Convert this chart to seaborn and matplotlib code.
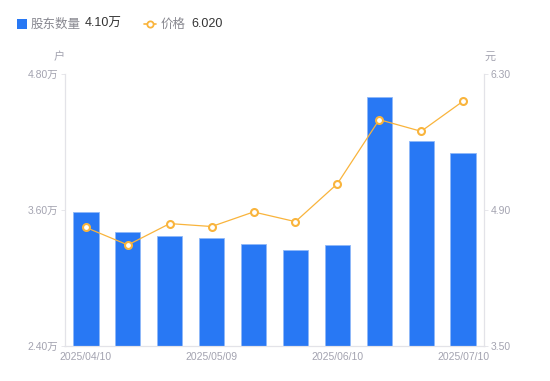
import numpy as np
import pandas as pd
import seaborn as sns
import matplotlib.pyplot as plt
from matplotlib.lines import Line2D
from matplotlib.patches import Rectangle

# dados
datas = ['2025/04/10', '2025/04/18', '2025/04/30', '2025/05/09', '2025/05/20',
         '2025/05/30', '2025/06/10', '2025/06/20', '2025/06/30', '2025/07/10']
acionistas = [3.58, 3.41, 3.37, 3.35, 3.30, 3.245, 3.29, 4.60, 4.21, 4.10]  # 万户
precos = [4.72, 4.54, 4.76, 4.73, 4.88, 4.78, 5.17, 5.83, 5.71, 6.02]
rotulos_x = ['2025/04/10', '2025/05/09', '2025/06/10', '2025/07/10']

azul = '#2878f4'
laranja = '#f9b43c'
cinza = '#a3a3b0'
eixo = '#e3e3e8'

sns.set_style('white')
plt.rcParams['font.family'] = ['Liberation Sans', 'Noto Sans CJK SC', 'DejaVu Sans']

df = pd.DataFrame({'data': datas, 'acionistas': acionistas, 'preco': precos,
                   'pos': np.arange(len(datas))})

fig = plt.figure(figsize=(5.5, 3.81), dpi=100)
ax = fig.add_axes([65 / 550, 35 / 381, 419 / 550, 272 / 381])

# barras: número de acionistas
sns.barplot(data=df, x='data', y='acionistas', color=azul, width=0.6,
            edgecolor='#8fb8f8', linewidth=0.6, saturation=1, ax=ax)
ax.set_ylim(2.4, 4.8)
ax.set_xlim(-0.5, len(datas) - 0.5)
ax.set_yticks([2.4, 3.6, 4.8])
ax.set_yticklabels([f'{v:.2f}万' for v in [2.4, 3.6, 4.8]])
ax.set_xticks([datas.index(d) for d in rotulos_x])
ax.set_xticklabels(rotulos_x)
ax.set_xlabel('')
ax.set_ylabel('')

# linha: preço no eixo da direita
ax2 = ax.twinx()
sns.lineplot(data=df, x='pos', y='preco', color=laranja, linewidth=0.9,
             marker='o', markersize=5, markerfacecolor='white',
             markeredgecolor=laranja, markeredgewidth=1.5, ax=ax2)
ax2.set_ylim(3.5, 6.3)
ax2.set_yticks([3.5, 4.9, 6.3])
ax2.set_yticklabels(['3.50', '4.90', '6.30'])
ax2.set_xlim(-0.5, len(datas) - 0.5)
ax2.set_xlabel('')
ax2.set_ylabel('')

for a in (ax, ax2):
    for s in a.spines.values():
        s.set_color(eixo)
        s.set_linewidth(0.8)
    a.spines['top'].set_visible(False)
    a.tick_params(colors=cinza, labelsize=7.5, length=3, width=0.6)
    a.tick_params(axis='y', color=eixo, pad=2)
ax.tick_params(axis='x', length=0, pad=4)

# unidades
fig.text(59 / 550, 1 - 57 / 381, '户', color=cinza, fontsize=8,
         ha='center', va='center', family=['Noto Sans CJK SC'])
fig.text(490 / 550, 1 - 57 / 381, '元', color=cinza, fontsize=8,
         ha='center', va='center', family=['Noto Sans CJK SC'])

# legenda
yl = 1 - 24 / 381
fig.patches.append(Rectangle((17 / 550, yl - 5 / 381), 10 / 550, 10 / 381,
                             transform=fig.transFigure, facecolor=azul,
                             edgecolor='none'))
fig.text(31 / 550, yl, '股东数量', color='#888890', fontsize=9, va='center',
         family=['Noto Sans CJK SC'])
fig.text(85 / 550, yl, '4.10万', color='#333333', fontsize=9, va='center')
fig.lines.append(Line2D([144 / 550, 156 / 550], [yl, yl], transform=fig.transFigure,
                        color=laranja, linewidth=1.2, zorder=1))
fig.lines.append(Line2D([150 / 550], [yl], transform=fig.transFigure,
                        linestyle='none', marker='o', markersize=4.5,
                        markerfacecolor='white', markeredgecolor=laranja,
                        markeredgewidth=1.3, zorder=2))
fig.text(161 / 550, yl, '价格', color='#888890', fontsize=9, va='center',
         family=['Noto Sans CJK SC'])
fig.text(191 / 550, yl, '6.020', color='#333333', fontsize=9, va='center')

fig.savefig('out.png', dpi=100)
